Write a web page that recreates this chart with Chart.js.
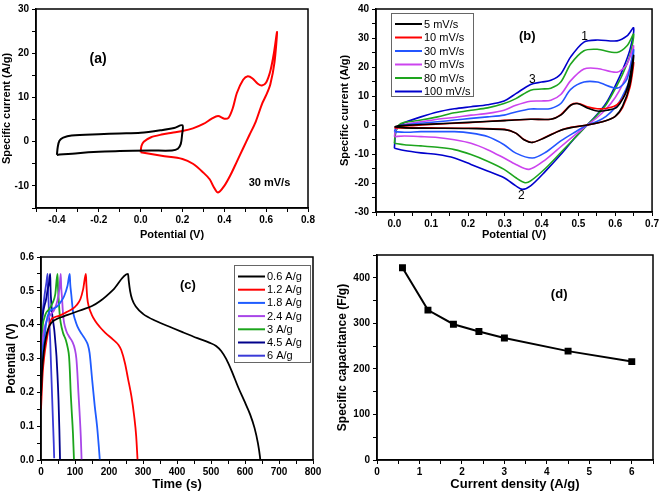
<!DOCTYPE html>
<html>
<head>
<meta charset="utf-8">
<script src="https://cdn.jsdelivr.net/npm/chart.js@4.4.1/dist/chart.umd.min.js"></script>
<style>
html, body { margin: 0; padding: 0; background: #fff; }
#wrap { position: relative; width: 661px; height: 492px; overflow: hidden; }
canvas { position: absolute; }
</style>
</head>
<body>
<div id="wrap">
<canvas id="cvA" width="330" height="244" style="left:0px;top:0px"></canvas>
<canvas id="cvB" width="331" height="244" style="left:330px;top:0px"></canvas>
<canvas id="gcdC" width="330" height="246" style="left:0px;top:246px"></canvas>
<canvas id="capD" width="331" height="246" style="left:330px;top:246px"></canvas>
</div>
<script>
// ---- (a) CV at 30 mV/s: [potential V, current A/g]
const cvA_black = [[-0.4,-3.0],[-0.396,-1.2],[-0.388,0.2],[-0.37,0.9],[-0.33,1.4],[-0.2,1.7],[-0.1,1.85],[0,2.0],[0.1,2.6],[0.16,3.1],[0.2,3.7],
  [0.198,1.5],[0.192,-0.5],[0.178,-1.6],[0.15,-2.0],[0.05,-2.0],[-0.1,-2.1],[-0.2,-2.3],[-0.3,-2.6],[-0.4,-3.0]];
const cvA_red = [[0,-2.4],[0.004,-1.0],[0.015,0],[0.05,1.0],[0.1,1.6],[0.15,2.0],[0.2,2.4],[0.25,3.0],[0.3,4.0],[0.34,5.2],[0.37,5.8],[0.4,5.2],[0.42,5.4],
  [0.44,7.5],[0.46,11],[0.49,14.0],[0.512,14.8],[0.535,14.3],[0.56,13.1],[0.58,12.7],[0.6,13.4],[0.62,16],[0.637,20],[0.652,24.8],
  [0.64,18],[0.62,13],[0.6,10.5],[0.58,8.5],[0.55,4.5],[0.52,1.5],[0.49,-1.5],[0.46,-4.5],[0.43,-7.5],[0.4,-10],[0.37,-11.5],[0.35,-10.3],
  [0.33,-8.5],[0.3,-7.0],[0.25,-5.0],[0.2,-3.9],[0.1,-3.2],[0,-2.4]];

// ---- (b) CV at several scan rates
const cvB_5 = [[0,-0.6],[0.01,-0.3],[0.05,0],[0.1,0.3],[0.2,0.9],[0.3,1.5],[0.37,2.0],[0.425,2.0],[0.452,3.4],[0.479,6.8],[0.497,7.4],[0.524,5.9],[0.551,4.8],[0.578,5.1],[0.605,6.2],[0.632,12.5],[0.65,24],
  [0.64,14],[0.62,6.5],[0.6,3],[0.57,1.3],[0.524,0],[0.48,-0.9],[0.452,-1.8],[0.407,-4.5],[0.375,-6.0],[0.352,-5.1],[0.33,-2.8],[0.3,-1.6],[0.2,-1.2],[0.1,-1.1],[0.03,-1.0],[0,-0.6]];
const cvB_10 = [[0,-1],[0.01,-0.6],[0.05,-0.2],[0.1,0.2],[0.2,0.8],[0.3,1.6],[0.37,2.0],[0.425,2.0],[0.452,3.6],[0.48,7.0],[0.5,7.4],[0.524,6.3],[0.551,5.6],[0.578,5.8],[0.605,7.0],[0.632,12],[0.65,21.6],
  [0.64,13],[0.62,6],[0.6,3],[0.57,1.3],[0.524,0],[0.48,-0.8],[0.452,-1.8],[0.41,-4.2],[0.375,-6.0],[0.352,-5.0],[0.33,-2.8],[0.3,-1.5],[0.2,-1.1],[0.1,-1.0],[0.03,-1.0],[0,-1]];
const cvB_30 = [[0,-2.3],[0.005,-0.8],[0.015,-0.2],[0.027,0],[0.072,0.6],[0.117,1.1],[0.163,1.7],[0.208,2.3],[0.253,2.8],[0.298,3.4],[0.33,4.5],[0.37,5.5],[0.4,5.5],[0.425,5.7],[0.452,7.4],[0.479,12.3],[0.515,14.8],[0.551,14.8],[0.605,12.7],[0.632,15.9],[0.65,26],
  [0.64,16],[0.62,10],[0.6,6],[0.575,3],[0.55,1.2],[0.524,0],[0.49,-2.5],[0.452,-5.5],[0.41,-9.5],[0.375,-11.4],[0.33,-9.7],[0.298,-6.8],[0.253,-4.0],[0.208,-2.8],[0.163,-2.3],[0.117,-2.3],[0.072,-2.3],[0.027,-2.5],[0,-2.3]];
const cvB_50 = [[0,-4],[0.004,-1.5],[0.015,-0.3],[0.027,0.2],[0.072,1.1],[0.117,2.0],[0.163,2.6],[0.208,3.4],[0.253,4.0],[0.298,5.1],[0.33,6.8],[0.37,8.2],[0.4,8.3],[0.425,8.5],[0.452,10.5],[0.479,15.3],[0.515,19.3],[0.551,19.5],[0.605,18.2],[0.632,21],[0.65,27.3],
  [0.64,20],[0.62,14],[0.6,9.5],[0.575,5.5],[0.55,2.5],[0.524,0],[0.49,-3.5],[0.452,-7.5],[0.41,-12],[0.366,-15.3],[0.33,-13.6],[0.298,-11.4],[0.253,-8.5],[0.208,-6.3],[0.163,-5.1],[0.117,-4.3],[0.072,-4.0],[0.027,-3.8],[0,-4]];
const cvB_80 = [[0,-6.3],[0.003,-2.5],[0.012,0],[0.027,0.9],[0.072,1.7],[0.117,2.8],[0.163,4.2],[0.208,5.1],[0.253,5.9],[0.298,7.4],[0.33,9.1],[0.37,12.0],[0.4,12.4],[0.425,12.7],[0.452,14.8],[0.479,21],[0.515,25.6],[0.551,26.1],[0.605,25],[0.632,27.3],[0.65,31.3],
  [0.64,24],[0.62,17.5],[0.6,12.5],[0.575,7],[0.55,3.3],[0.524,0],[0.49,-4.5],[0.452,-9.5],[0.41,-15],[0.37,-19.3],[0.355,-19.9],[0.33,-18.2],[0.298,-15.3],[0.253,-12.5],[0.208,-10.2],[0.163,-8.5],[0.117,-7.7],[0.072,-7.2],[0.027,-6.8],[0,-6.3]];
const cvB_100 = [[0,-8],[0.003,-3],[0.01,-0.5],[0.027,0.8],[0.072,2.8],[0.117,4.5],[0.163,5.6],[0.208,6.3],[0.253,7.0],[0.298,8.3],[0.33,10.8],[0.37,14.0],[0.4,14.8],[0.425,15.4],[0.452,17.6],[0.479,23.5],[0.515,28.6],[0.551,29.3],[0.605,29.0],[0.632,30.7],[0.65,33.5],
  [0.64,26],[0.62,19],[0.6,13.5],[0.575,7.5],[0.55,3.5],[0.524,0],[0.49,-4.5],[0.452,-10.2],[0.41,-16],[0.37,-21],[0.348,-22.2],[0.33,-21],[0.298,-18.2],[0.253,-15.9],[0.208,-13.6],[0.163,-11.4],[0.117,-10.2],[0.072,-9.6],[0.027,-8.8],[0,-8]];
const rateLabels = ['5 mV/s', '10 mV/s', '30 mV/s', '50 mV/s', '80 mV/s', '100 mV/s'];

// ---- (c) charge/discharge: [time s, potential V]
const gcd06 = [[0,0.19],[3,0.26],[8,0.32],[15,0.365],[22,0.39],[30,0.405],[45,0.416],[65,0.424],[90,0.433],[120,0.444],[150,0.455],[173,0.469],[212,0.503],[256,0.55],
  [258,0.53],[262,0.5],[268,0.475],[280,0.452],[300,0.432],[340,0.41],[380,0.393],[418,0.377],[460,0.36],[495,0.347],[515,0.337],[530,0.322],[545,0.298],[560,0.265],[580,0.215],[600,0.17],[615,0.135],[628,0.095],[638,0.05],[644,0.01],[645,0]];
const gcd12 = [[0,0.15],[5,0.257],[10,0.31],[15,0.345],[22,0.385],[29,0.413],[40,0.422],[53,0.426],[75,0.437],[92,0.446],[105,0.458],[116,0.476],[124,0.505],[132,0.55],
  [133.5,0.52],[136,0.48],[141,0.452],[149,0.43],[160,0.41],[173,0.393],[190,0.375],[212,0.356],[228,0.34],[236,0.325],[247,0.286],[256,0.24],[266,0.188],[274,0.13],[280,0.07],[284,0]];
const gcd18 = [[0,0.2],[3,0.3],[9.7,0.355],[16,0.41],[24,0.437],[36,0.447],[48.5,0.455],[60,0.47],[68,0.484],[78,0.515],[84.5,0.55],
  [86,0.52],[89,0.49],[94,0.44],[100,0.415],[107,0.395],[120,0.372],[131,0.355],[138,0.34],[143,0.316],[150.5,0.237],[158,0.16],[165,0.099],[170,0.04],[173,0]];
const gcd24 = [[0,0.2],[2,0.3],[5,0.355],[10,0.39],[19,0.415],[30,0.432],[39,0.444],[48,0.47],[54,0.505],[58,0.55],
  [59.5,0.51],[61.5,0.484],[65,0.43],[68,0.405],[75,0.38],[82.5,0.365],[92,0.35],[100,0.326],[104,0.3],[107,0.257],[110,0.2],[113.6,0.138],[117,0.07],[119.4,0]];
const gcd3 = [[0,0.22],[2,0.33],[5,0.395],[10,0.42],[14.6,0.434],[25,0.447],[34,0.464],[42,0.49],[48.5,0.55],
  [50,0.51],[51.5,0.484],[55,0.43],[58,0.405],[65,0.375],[73,0.355],[79,0.33],[82.5,0.306],[85,0.26],[87,0.207],[90,0.15],[94,0.079],[97,0]];
const gcd45 = [[0,0.2],[1.5,0.33],[3,0.405],[6,0.435],[9.7,0.454],[15,0.475],[19.4,0.503],[24,0.525],[27,0.55],
  [28,0.51],[29,0.484],[33,0.43],[39,0.385],[42.5,0.345],[45.6,0.306],[48.5,0.25],[51.5,0.178],[54,0.09],[56,0]];
const gcd6 = [[0,0.178],[1,0.28],[2,0.355],[5,0.434],[9,0.475],[12.6,0.503],[16,0.525],[19.4,0.55],
  [20.5,0.51],[22,0.474],[24.5,0.41],[27,0.355],[29.5,0.28],[32,0.207],[35,0.12],[37.5,0.05],[38.8,0.005]];
const densityLabels = ['0.6 A/g', '1.2 A/g', '1.8 A/g', '2.4 A/g', '3 A/g', '4.5 A/g', '6 A/g'];

// ---- (d) specific capacitance vs current density
const currentDensity = [0.6, 1.2, 1.8, 2.4, 3, 4.5, 6];
const capacitance = [422, 329, 298, 282, 268, 239, 216];

const SANS = '"Liberation Sans", Arial, Helvetica, sans-serif';
const NARROW = '"Liberation Sans Narrow", "Liberation Sans", Arial, sans-serif';

Chart.defaults.color = '#000';
Chart.defaults.font.family = SANS;

function pts(pairs) {
    return pairs.map(p => ({ x: p[0], y: p[1] }));
}

function curve(label, pairs, color, width, extra) {
    return Object.assign({
        label: label,
        data: pts(pairs),
        borderColor: color,
        backgroundColor: color,
        borderWidth: width,
        showLine: true,
        pointRadius: 0,
        tension: 0.3,
        fill: false
    }, extra || {});
}

function axis(o) {
    return {
        type: 'linear',
        min: o.min,
        max: o.max,
        ticks: {
            stepSize: o.step,
            autoSkip: false,
            maxRotation: 0,
            padding: o.tickPad,
            font: { family: NARROW, size: 10, weight: 'bold' },
            color: '#000',
            callback: o.label
        },
        grid: { drawOnChartArea: false, drawTicks: true, tickLength: 4, tickColor: '#000', tickWidth: 1 },
        border: { color: '#000', width: 1.5 },
        title: { display: true, text: o.title, color: '#000', font: { family: SANS, size: o.titleSize, weight: 'bold' }, padding: o.titlePad },
        afterFit: function (s) {
            if (s.isHorizontal()) {
                s.height = o.size;
            } else {
                s.width = o.size;
            }
        }
    };
}

// label every `major` units, blank minor ticks
function every(major, digits) {
    return function (v) {
        const r = Math.round(v / major * 1000) / 1000;
        if (Math.abs(r - Math.round(r)) > 1e-6) {
            return '';
        }
        return (Math.round(r) * major).toFixed(digits);
    };
}

const frame = {
    id: 'frame',
    afterDraw(chart) {
        const a = chart.chartArea;
        const c = chart.ctx;
        c.save();
        c.strokeStyle = '#000';
        c.lineWidth = 1.5;
        c.strokeRect(a.left, a.top, a.right - a.left, a.bottom - a.top);
        c.restore();
    }
};

function notes(list) {
    return {
        id: 'notes',
        afterDraw(chart) {
            const c = chart.ctx;
            c.save();
            c.fillStyle = '#000';
            c.textAlign = 'center';
            c.textBaseline = 'middle';
            list.forEach(n => {
                c.font = n.font;
                c.fillText(n.text, chart.scales.x.getPixelForValue(n.x), chart.scales.y.getPixelForValue(n.y));
            });
            c.restore();
        }
    };
}

function boxLegend(o) {
    return {
        id: 'boxLegend',
        afterDraw(chart) {
            const c = chart.ctx;
            c.save();
            c.fillStyle = '#fff';
            c.fillRect(o.x, o.y, o.w, o.h);
            c.strokeStyle = '#666';
            c.lineWidth = 1;
            c.strokeRect(o.x + 0.5, o.y + 0.5, o.w, o.h);
            c.font = '11px ' + SANS;
            c.textBaseline = 'middle';
            chart.data.datasets.forEach((ds, i) => {
                const y = o.y + o.first + i * o.row;
                c.strokeStyle = ds.borderColor;
                c.lineWidth = 2;
                c.beginPath();
                c.moveTo(o.x + o.lineX, y);
                c.lineTo(o.x + o.lineX + o.len, y);
                c.stroke();
                c.fillStyle = '#000';
                c.fillText(ds.label, o.x + o.textX, y + 0.5);
            });
            c.restore();
        }
    };
}

function panel(id, datasets, padding, xAxis, yAxis, extraPlugins) {
    return new Chart(document.getElementById(id), {
        type: 'scatter',
        data: { datasets: datasets },
        options: {
            responsive: false,
            animation: false,
            events: [],
            devicePixelRatio: 1,
            layout: { padding: padding },
            plugins: { legend: { display: false }, tooltip: { enabled: false } },
            scales: { x: xAxis, y: yAxis }
        },
        plugins: [frame].concat(extraPlugins)
    });
}

// (a)
panel('cvA',
    [curve('black', cvA_black, '#000000', 2), curve('red', cvA_red, '#ff0000', 2)],
    { top: 5, right: 22, bottom: 0, left: 0 },
    axis({ min: -0.5, max: 0.8, step: 0.1, label: every(0.2, 1), title: 'Potential (V)', titleSize: 11, titlePad: { top: 2, bottom: 2 }, size: 36, tickPad: 2 }),
    axis({ min: -15, max: 30, step: 5, label: every(10, 0), title: 'Specific current (A/g)', titleSize: 11, titlePad: { top: 0, bottom: 0 }, size: 36, tickPad: 3 }),
    [notes([
        { text: '(a)', x: -0.203, y: 18.7, font: 'bold 14px ' + SANS },
        { text: '30 mV/s', x: 0.616, y: -9.3, font: 'bold 11px ' + SANS }
    ])]
);

// (b)
const rateColors = ['#000000', '#ff0000', '#2456ff', '#cc44ee', '#1ea51e', '#0000cc'];
panel('cvB',
    [cvB_5, cvB_10, cvB_30, cvB_50, cvB_80, cvB_100].map((d, i) => curve(rateLabels[i], d, rateColors[i], 1.6)),
    { top: 6, right: 8, bottom: 0, left: 0 },
    axis({ min: -0.05, max: 0.7, step: 0.05, label: every(0.1, 1), title: 'Potential (V)', titleSize: 11, titlePad: { top: 2, bottom: 2 }, size: 32, tickPad: 2 }),
    axis({ min: -30, max: 40, step: 5, label: every(10, 0), title: 'Specific current (A/g)', titleSize: 11, titlePad: { top: 8, bottom: 0 }, size: 46, tickPad: 3 }),
    [notes([
        { text: '(b)', x: 0.361, y: 30.7, font: 'bold 13px ' + SANS },
        { text: '1', x: 0.517, y: 30.4, font: '12px ' + SANS },
        { text: '3', x: 0.375, y: 15.7, font: '12px ' + SANS },
        { text: '2', x: 0.345, y: -24.4, font: '12px ' + SANS }
    ]), boxLegend({ x: 61, y: 13, w: 82, h: 83, first: 11, row: 13.5, lineX: 4, len: 27, textX: 33 })]
);

// (c)
const densityColors = ['#000000', '#ff0000', '#1f5cff', '#a846e8', '#1ca51c', '#00008b', '#3a3ad8'];
panel('gcdC',
    [gcd06, gcd12, gcd18, gcd24, gcd3, gcd45, gcd6].map((d, i) => curve(densityLabels[i], d, densityColors[i], 1.8, { cubicInterpolationMode: 'monotone' })),
    { top: 11, right: 17, bottom: 0, left: 0 },
    axis({ min: 0, max: 800, step: 50, label: every(100, 0), title: 'Time (s)', titleSize: 13, titlePad: { top: 2, bottom: 0 }, size: 32, tickPad: 2 }),
    axis({ min: 0, max: 0.6, step: 0.05, label: every(0.1, 1), title: 'Potential (V)', titleSize: 12, titlePad: { top: 4, bottom: 0 }, size: 41, tickPad: 3 }),
    [notes([
        { text: '(c)', x: 432, y: 0.517, font: 'bold 13px ' + SANS }
    ]), boxLegend({ x: 234, y: 19, w: 76, h: 97, first: 11.5, row: 13.2, lineX: 4, len: 27, textX: 33 })]
);

// (d)
panel('capD',
    [{
        label: 'capacitance',
        data: currentDensity.map((x, i) => ({ x: x, y: capacitance[i] })),
        borderColor: '#000',
        backgroundColor: '#000',
        borderWidth: 2,
        showLine: true,
        pointStyle: 'rect',
        pointRadius: 3.5,
        tension: 0
    }],
    { top: 8, right: 8, bottom: 0, left: 0 },
    axis({ min: 0, max: 6.5, step: 0.5, label: every(1, 0), title: 'Current density (A/g)', titleSize: 13, titlePad: { top: 2, bottom: 0 }, size: 32, tickPad: 2 }),
    axis({ min: 0, max: 450, step: 50, label: every(100, 0), title: 'Specific capacitance (F/g)', titleSize: 12, titlePad: { top: 5, bottom: 0 }, size: 47, tickPad: 3 }),
    [notes([
        { text: '(d)', x: 4.29, y: 364, font: 'bold 13px ' + SANS }
    ])]
);
</script>
</body>
</html>
